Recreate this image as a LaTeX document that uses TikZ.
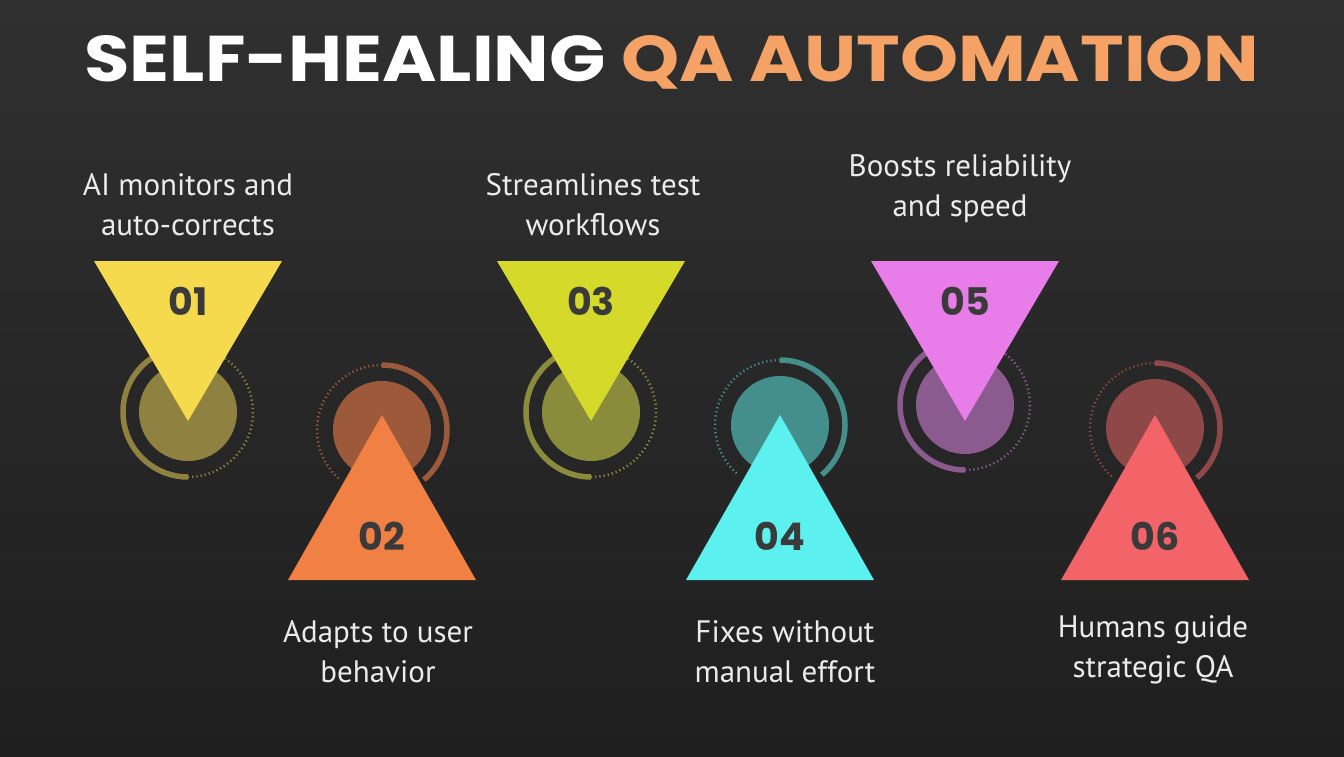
\documentclass[tikz,border=0pt]{standalone}
\usepackage{fontspec}
\setmainfont{PT Sans}
\newfontfamily\titlefont{Poppins}[UprightFont=* Bold]
\usetikzlibrary{shapes.geometric}
\definecolor{bgtop}{HTML}{303030}
\definecolor{bgbot}{HTML}{1F1F1F}
\definecolor{numc}{HTML}{3A3A3A}
\definecolor{qa}{HTML}{F4A265}
\definecolor{cA}{HTML}{F5DA4E}\definecolor{dA}{HTML}{8F8240}
\definecolor{cB}{HTML}{F08043}\definecolor{dB}{HTML}{9C5A3A}
\definecolor{cC}{HTML}{D5D92A}\definecolor{dC}{HTML}{8A8C3C}
\definecolor{cD}{HTML}{5CF0EE}\definecolor{dD}{HTML}{448E8C}
\definecolor{cE}{HTML}{E87CE8}\definecolor{dE}{HTML}{8B5A8E}
\definecolor{cF}{HTML}{F26468}\definecolor{dF}{HTML}{8E4848}
\tikzset{
 lbl/.style={text=white!92!black,font=\fontsize{31}{40}\selectfont,align=center},
 num/.style={text=numc,font=\titlefont\fontsize{38}{38}\selectfont},
 solidring/.style={line width=5.5pt},
 dotring/.style={line width=2.5pt,dash pattern=on 1.2pt off 3pt},
}
\newcommand\downitem[5]{% x, y(ring center), fill, dark, number
 \draw[#4,solidring] (#1,#2) ++(-100:65) arc[start angle=-100,end angle=-270,radius=65];
 \draw[#4,dotring] (#1,#2) ++(-270:65) arc[start angle=-270,end angle=-420,radius=65];
 \fill[#4] (#1,#2) circle[radius=49];
 \fill[#3] (#1-94,261) -- (#1+94,261) -- (#1,421) -- cycle;
 \node[num] (n#5) at (#1,301) {#5};
}
\newcommand\upitem[5]{%
 \draw[#4,solidring] (#1,#2) ++(-90:65) arc[start angle=-90,end angle=50,radius=65];
 \draw[#4,dotring] (#1,#2) ++(-90:65) arc[start angle=-90,end angle=-230,radius=65];
 \fill[#4] (#1,#2) circle[radius=49];
 \fill[#3] (#1-94,580) -- (#1+94,580) -- (#1,415) -- cycle;
 \node[num] (n#5) at (#1,536) {#5};
}
\begin{document}
\begin{tikzpicture}[x=1pt,y=-1pt]
\shade[top color=bgtop,bottom color=bgbot] (0,0) rectangle (1344,756);
\useasboundingbox (0,0) rectangle (1344,756);
\node (title) at (672,62) {\resizebox{1175pt}{46pt}{\titlefont\textcolor{white}{SELF-HEALING }\textcolor{qa}{QA AUTOMATION}}};
\downitem{188}{412}{cA}{dA}{01}
\upitem{382}{430}{cB}{dB}{02}
\downitem{591}{412}{cC}{dC}{03}
\upitem{780}{425}{cD}{dD}{04}
\downitem{965}{405}{cE}{dE}{05}
\upitem{1155}{428}{cF}{dF}{06}
\node[lbl] (l1) at (188,205) {AI monitors and\\auto-corrects};
\node[lbl] (l3) at (593,205) {Streamlines test\\workflows};
\node[lbl] (l5) at (960,189) {Boosts reliability\\and speed};
\node[lbl] (l2) at (378,652) {Adapts to user\\behavior};
\node[lbl] (l4) at (785,652) {Fixes without\\manual effort};
\node[lbl] (l6) at (1153,650) {Humans guide\\strategic QA};
\end{tikzpicture}
\end{document}
